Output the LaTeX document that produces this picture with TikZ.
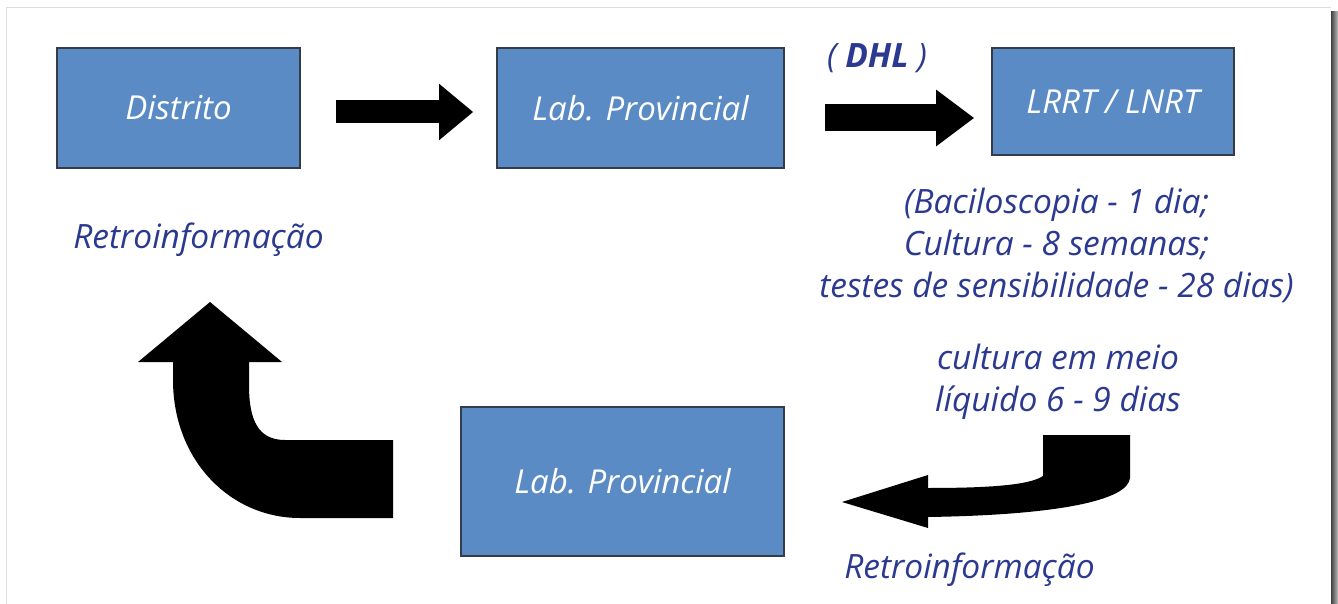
\documentclass[tikz,border=0pt]{standalone}
\usepackage{fontspec}
\setmainfont{Open Sans}
\usetikzlibrary{arrows.meta,calc}

\definecolor{boxblue}{RGB}{91,139,197}
\definecolor{boxedge}{RGB}{52,60,74}
\definecolor{navy}{RGB}{43,57,144}

\tikzset{
  stage/.style={rectangle, draw=boxedge, line width=1.6pt, fill=boxblue,
    text=white, font=\fontsize{33}{38}\selectfont\itshape, inner sep=0pt},
  note/.style={text=navy, font=\fontsize{33.5}{42}\selectfont\itshape,
    align=center, inner sep=0pt},
  fatarrow/.style={line width=#1, draw=black, line cap=butt},
  blockfill/.style={fill=black, draw=none}
}

\begin{document}
\begin{tikzpicture}[x=1pt,y=-1pt]
  % page and its frame with a drop shadow on the right
  \useasboundingbox (0,0) rectangle (1338,604);
  \fill[white] (0,0) rectangle (1338,604);
  \draw[gray!25, line width=1pt] (6,604) -- (6,8) -- (1331,8);
  \shade[left color=black!75, right color=black!25] (1331,12) rectangle (1338,604);

  % stages of the sample route
  \node[stage, minimum width=243pt, minimum height=120pt] (distrito) at (178.5,108) {Distrito};
  \node[stage, minimum width=287pt, minimum height=120pt] (labtop) at (640.5,108) {Lab. Provincial};
  \node[stage, minimum width=242pt, minimum height=107pt] (lrrt) at (1113,101.5) {LRRT / LNRT};
  \node[stage, minimum width=323pt, minimum height=149pt] (labbot) at (622.5,481.5) {Lab. Provincial};

  % straight block arrows between the upper stages
  \draw[fatarrow=23pt, -{Triangle[length=34pt,width=54pt]},
        shorten <=35pt, shorten >=23pt]
    ([yshift=-4pt]distrito.east) -- ([yshift=-4pt]labtop.west);
  \draw[fatarrow=27pt, -{Triangle[length=38pt,width=54pt]},
        shorten <=40pt, shorten >=17pt]
    ([yshift=-10pt]labtop.east) -- ([yshift=-16.5pt]lrrt.west);

  % curved block arrow from the reference laboratory back to the province
  \coordinate (backtip) at (842,502);
  \fill[blockfill] (backtip) -- (928,475) -- (928,488)
    .. controls (990,488) and (1030,485) .. (1043,476)
    -- (1043,435) -- (1130,435) -- (1130,478)
    .. controls (1128,500) and (1060,515) .. (928,517)
    -- (928,528) -- cycle;

  % curved block arrow from the province back to the district
  \coordinate (uptip) at (210,302);
  \fill[blockfill] (393,440) -- (285,440)
    .. controls (258,440) and (249,420) .. (249,385)
    -- (249,362) -- (282,362) -- (uptip) -- (138,362) -- (173,362) -- (173,380)
    .. controls (173,460) and (230,518) .. (300,518)
    -- (393,518) -- cycle;

  % annotations
  \node[note] (dhl) at (877,58) {( \textbf{DHL} )};
  \node[note] (retro1) at (198.5,240) {Retroinformação};
  \node[note] (times) at (1056.5,245) {(Baciloscopia - 1 dia;\\Cultura - 8 semanas;\\testes de sensibilidade - 28 dias)};
  \node[note] (liquid) at (1058,382) {cultura em meio\\líquido 6 - 9 dias};
  \node[note] (retro2) at (969.5,570) {Retroinformação};
\end{tikzpicture}
\end{document}
